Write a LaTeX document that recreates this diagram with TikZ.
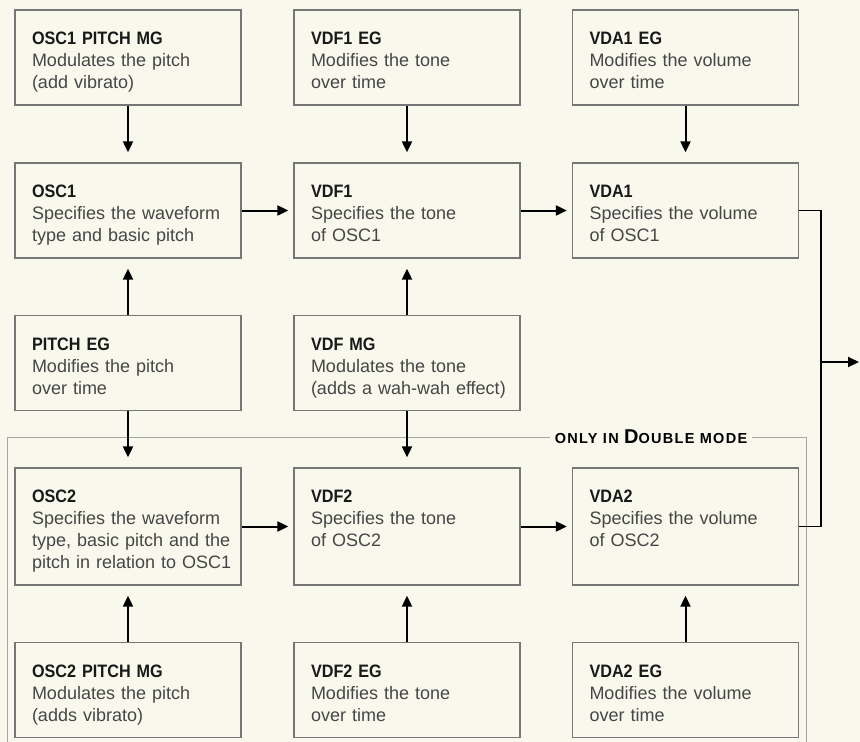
\documentclass[tikz,border=0pt]{standalone}
\usepackage{fontspec}
\setmainfont{Liberation Sans}[BoldFeatures={FakeStretch=0.9}]
\newfontfamily\tagfont{Liberation Sans Bold}[LetterSpace=9]
\usetikzlibrary{arrows.meta}

\definecolor{paper}{RGB}{249,248,236}
\definecolor{boxline}{RGB}{118,118,118}
\definecolor{bodytext}{RGB}{70,70,70}
\definecolor{frameline}{RGB}{165,165,165}

% bold heading, then the description lines (kept in one unbreakable block,
% with a little extra room above the heading)
\newcommand{\blk}[2]{\begin{tabular}{@{}l@{}}%
  {\color{black!90}\rule{0pt}{25.4pt}\textbf{#1}}\\#2\end{tabular}}

\tikzset{
  unit/.style={draw=boxline, line width=1.3pt, fill=paper, text=bodytext,
    inner xsep=17pt, text width=192pt, minimum height=95pt,
    align=left, font=\fontsize{18}{22}\selectfont},
  tall/.style={minimum height=117pt},
  flow/.style={line width=2pt, -{Triangle[length=11pt,width=10pt]}},
}

\begin{document}
\begin{tikzpicture}[x=1pt, y=-1pt]
\fill[paper] (0,0) rectangle (860,742);
\useasboundingbox (0,0) rectangle (860,742);
\clip (0,0) rectangle (860,742);

% frame round the second voice
\draw[frameline, line width=1pt] (7,760) -- (7,437) -- (806,437) -- (806,760);
\node[fill=paper, inner xsep=5pt, inner ysep=2pt, text=black] (dbl) at (651,437)
  {\tagfont\fontsize{14.5}{14.5}\selectfont ONLY IN \fontsize{20}{20}\selectfont D\fontsize{14.5}{14.5}\selectfont OUBLE MODE};

% oscillators
\node[unit] (osc1pmg) at (128,57.5) {\blk{OSC1 PITCH MG}{Modulates the pitch\\(add vibrato)}};
\node[unit] (osc1) at (128,210.5) {\blk{OSC1}{Specifies the waveform\\type and basic pitch}};
\node[unit] (pitcheg) at (128,363) {\blk{PITCH EG}{Modifies the pitch\\over time}};
\node[unit,tall] (osc2) at (128,526.5) {\blk{OSC2}{Specifies the waveform\\type, basic pitch and the\\pitch in relation to OSC1}};
\node[unit] (osc2pmg) at (128,690) {\blk{OSC2 PITCH MG}{Modulates the pitch\\(adds vibrato)}};

% filters
\node[unit] (vdf1eg) at (407,57.5) {\blk{VDF1 EG}{Modifies the tone\\over time}};
\node[unit] (vdf1) at (407,210.5) {\blk{VDF1}{Specifies the tone\\of OSC1}};
\node[unit] (vdfmg) at (407,363) {\blk{VDF MG}{Modulates the tone\\(adds a wah-wah effect)}};
\node[unit,tall] (vdf2) at (407,526.5) {\blk{VDF2}{Specifies the tone\\of OSC2\\\mbox{}}};
\node[unit] (vdf2eg) at (407,690) {\blk{VDF2 EG}{Modifies the tone\\over time}};

% amplifiers
\node[unit] (vda1eg) at (685.5,57.5) {\blk{VDA1 EG}{Modifies the volume\\over time}};
\node[unit] (vda1) at (685.5,210.5) {\blk{VDA1}{Specifies the volume\\of OSC1}};
\node[unit,tall] (vda2) at (685.5,526.5) {\blk{VDA2}{Specifies the volume\\of OSC2\\\mbox{}}};
\node[unit] (vda2eg) at (685.5,690) {\blk{VDA2 EG}{Modifies the volume\\over time}};

% modulation sources
\foreach \a/\b in {osc1pmg/osc1, pitcheg/osc1, pitcheg/osc2, osc2pmg/osc2,
                   vdf1eg/vdf1, vdfmg/vdf1, vdfmg/vdf2, vdf2eg/vdf2,
                   vda1eg/vda1, vda2eg/vda2}
  \draw[flow, shorten >=10pt] (\a) -- (\b);

% signal path
\foreach \a/\b in {osc1/vdf1, vdf1/vda1, osc2/vdf2, vdf2/vda2}
  \draw[flow, shorten >=5pt] (\a) -- (\b);

\coordinate (bus) at (821,362);
\coordinate (out) at (859,362);
\draw[line width=1.8pt] (vda1.east) -| (bus) |- (vda2.east);
\draw[flow] (bus) -- (out);

\end{tikzpicture}
\end{document}
